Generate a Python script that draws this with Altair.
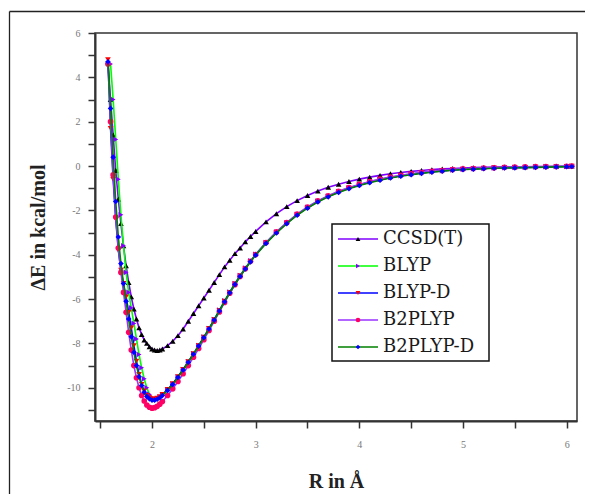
import altair as alt
import pandas as pd

# ---------------- data ----------------
R = [1.575, 1.6, 1.625, 1.65, 1.675, 1.7, 1.725, 1.75, 1.775, 1.8, 1.825, 1.85,
     1.875, 1.9, 1.925, 1.95, 1.975, 2.0, 2.025, 2.05, 2.075, 2.1,
     2.15, 2.2, 2.25, 2.3, 2.35, 2.4, 2.45, 2.5, 2.55, 2.6, 2.65, 2.7, 2.75, 2.8,
     2.85, 2.9, 2.95, 3.0,
     3.1, 3.2, 3.3, 3.4, 3.5, 3.6, 3.7, 3.8, 3.9, 4.0, 4.1, 4.2, 4.3, 4.4, 4.5,
     4.6, 4.7, 4.8, 4.9, 5.0, 5.1, 5.2, 5.3, 5.4, 5.5, 5.6, 5.7, 5.8, 5.9, 6.0, 6.05]

CCSD_T = [4.7, 3.0, 1.4, -0.2, -1.5, -2.6, -3.6, -4.5, -5.25, -5.9, -6.45, -6.9,
          -7.3, -7.6, -7.85, -8.0, -8.15, -8.25, -8.3, -8.32, -8.3, -8.25,
          -8.1, -7.9, -7.65, -7.35, -7.0, -6.65, -6.3, -5.95, -5.6, -5.25, -4.9, -4.55, -4.25, -3.95,
          -3.7, -3.42, -3.18, -2.95,
          -2.52, -2.15, -1.83, -1.56, -1.33, -1.13, -0.96, -0.82, -0.7, -0.59, -0.5, -0.42, -0.35, -0.29, -0.24,
          -0.2, -0.16, -0.13, -0.11, -0.09, -0.07, -0.06, -0.05, -0.04, -0.03, -0.03, -0.02, -0.02, -0.01, -0.01, 0.0]

BLYP = [None, 4.6, 3.0, 1.2, -0.6, -2.2, -3.6, -4.8, -5.7, -6.4, -7.1, -7.8,
        -8.5, -9.1, -9.6, -10.0, -10.3, -10.45, -10.52, -10.5, -10.43, -10.33,
        -10.1, -9.84, -9.52, -9.18, -8.83, -8.47, -8.1, -7.72, -7.33, -6.92, -6.5, -6.08, -5.68, -5.3,
        -4.94, -4.6, -4.28, -3.98,
        -3.45, -2.98, -2.56, -2.18, -1.86, -1.58, -1.35, -1.15, -0.98, -0.84, -0.71, -0.6, -0.51, -0.43, -0.36,
        -0.3, -0.25, -0.21, -0.17, -0.14, -0.12, -0.1, -0.08, -0.07, -0.06, -0.05, -0.04, -0.03, -0.02, -0.02, -0.01]

BLYP_D = [4.8, 1.7, -0.6, -2.4, -3.8, -4.7, -5.3, -5.9, -6.6, -7.3, -8.1, -8.8,
          -9.4, -9.85, -10.15, -10.35, -10.45, -10.5, -10.5, -10.47, -10.4, -10.3,
          -10.08, -9.82, -9.5, -9.17, -8.82, -8.47, -8.1, -7.72, -7.33, -6.93, -6.52, -6.1, -5.7, -5.32,
          -4.96, -4.62, -4.3, -4.0,
          -3.47, -3.0, -2.58, -2.2, -1.88, -1.6, -1.37, -1.17, -1.0, -0.86, -0.73, -0.62, -0.52, -0.44, -0.37,
          -0.31, -0.26, -0.22, -0.18, -0.15, -0.13, -0.11, -0.09, -0.08, -0.07, -0.06, -0.05, -0.04, -0.03, -0.02, -0.01]

B2PLYP = [4.6, 2.0, -0.4, -2.3, -3.7, -4.8, -5.7, -6.6, -7.5, -8.3, -9.0, -9.55,
          -10.0, -10.35, -10.6, -10.78, -10.88, -10.92, -10.9, -10.84, -10.74, -10.62,
          -10.35, -10.05, -9.72, -9.37, -9.0, -8.62, -8.23, -7.83, -7.42, -7.0, -6.58, -6.15, -5.74, -5.35,
          -4.98, -4.63, -4.3, -3.99,
          -3.45, -2.97, -2.55, -2.17, -1.85, -1.57, -1.34, -1.14, -0.97, -0.83, -0.7, -0.59, -0.5, -0.42, -0.35,
          -0.29, -0.24, -0.2, -0.16, -0.13, -0.11, -0.09, -0.08, -0.06, -0.05, -0.04, -0.03, -0.02, -0.02, -0.01, 0.0]

B2PLYP_D = [4.7, 2.6, 0.4, -1.6, -3.2, -4.4, -5.3, -6.1, -6.9, -7.7, -8.4, -9.0,
            -9.5, -9.9, -10.2, -10.4, -10.5, -10.56, -10.56, -10.52, -10.45, -10.35,
            -10.12, -9.85, -9.53, -9.2, -8.85, -8.49, -8.12, -7.74, -7.35, -6.95, -6.54, -6.12, -5.72, -5.34,
            -4.98, -4.64, -4.32, -4.02,
            -3.49, -3.02, -2.6, -2.22, -1.9, -1.62, -1.39, -1.19, -1.02, -0.88, -0.75, -0.64, -0.54, -0.46, -0.39,
            -0.33, -0.28, -0.23, -0.19, -0.16, -0.14, -0.12, -0.1, -0.09, -0.08, -0.07, -0.06, -0.05, -0.04, -0.03, -0.02]

series_names = ["CCSD(T)", "BLYP", "BLYP-D", "B2PLYP", "B2PLYP-D"]
series_values = [CCSD_T, BLYP, BLYP_D, B2PLYP, B2PLYP_D]
line_colors = ["#8000ff", "#00ff00", "#0000ff", "#9933ff", "#008000"]
marker_colors = ["#000000", "#8000ff", "#ff0000", "#ff0066", "#0000ff"]
marker_shapes = ["triangle-up", "triangle-right", "triangle-down", "circle", "diamond"]

x_tick_values = [1.5, 2, 2.5, 3, 3.5, 4, 4.5, 5, 5.5, 6]
y_tick_values = [-11, -10, -9, -8, -7, -6, -5, -4, -3, -2, -1, 0, 1, 2, 3, 4, 5, 6]
x_domain = [1.45, 6.1]
y_domain = [-11.5, 6]

x_title = "R in Å"
y_title = "ΔE in kcal/mol"

# ---------------- chart ----------------
W, H = 482, 388
SERIF = "Liberation Serif"

x_enc = alt.X("R:Q", scale=alt.Scale(domain=x_domain, nice=False, zero=False),
              axis=alt.Axis(values=x_tick_values, title=x_title,
                            labelExpr="datum.value % 1 == 0 ? '' + datum.value : ''",
                            labelPadding=11, titleFontSize=20,
                            titleBaseline="alphabetic", titleY=66))
y_enc = alt.Y("E:Q", scale=alt.Scale(domain=y_domain, nice=False, zero=False),
              axis=alt.Axis(values=y_tick_values, title=y_title,
                            labelExpr="datum.value % 2 == 0 ? '' + datum.value : ''",
                            labelPadding=8, titlePadding=18, titleFontSize=20))

layers = []

# outer frame of the figure (left and top edges; the rest runs off the page)
one = pd.DataFrame({"k": [0]})
layers.append(alt.Chart(one).mark_rule(color="#222222", strokeWidth=1.3).encode(
    x=alt.value(-85.5), y=alt.value(-21.5), y2=alt.value(H + 120)))
layers.append(alt.Chart(one).mark_rule(color="#222222", strokeWidth=1.3).encode(
    x=alt.value(-85.5), x2=alt.value(W + 40), y=alt.value(-21.5)))

for name, vals, lc, mc, sh in zip(series_names, series_values, line_colors, marker_colors, marker_shapes):
    df = pd.DataFrame({"R": R, "E": vals, "series": name}).dropna()
    base = alt.Chart(df).encode(x=x_enc, y=y_enc)
    layers.append(base.mark_line(color=lc, strokeWidth=1.6))
    layers.append(base.mark_point(filled=True, color=mc, shape=sh, size=32, opacity=1))

# legend (drawn by hand to show line + marker)
box = alt.Chart(one).mark_rect(
    fill="white", stroke="#111111", strokeWidth=1.5).encode(
    x=alt.value(237), x2=alt.value(394), y=alt.value(191), y2=alt.value(328))
layers.append(box)
for i, (name, lc, mc, sh) in enumerate(zip(series_names, line_colors, marker_colors, marker_shapes)):
    py = 206 + 27 * i
    d = pd.DataFrame({"series": [name]})
    c = alt.Chart(d)
    layers.append(c.mark_rule(color=lc, strokeWidth=1.6).encode(
        x=alt.value(243), x2=alt.value(283), y=alt.value(py)))
    layers.append(c.mark_point(filled=True, color=mc, shape=sh, size=22, opacity=1).encode(
        x=alt.value(263), y=alt.value(py)))
    layers.append(c.mark_text(align="left", baseline="middle", font="DejaVu Serif", fontSize=18,
                              color="#1a1a1a").encode(
        x=alt.value(288), y=alt.value(py), text="series:N"))

chart = alt.layer(*layers).properties(
    width=W, height=H,
    autosize=alt.AutoSizeParams(type="none"),
    padding={"left": 87, "top": 25, "right": 8, "bottom": 73},
).configure_view(
    stroke="#333333", strokeWidth=1.5
).configure_axis(
    grid=False, domainColor="#333333", domainWidth=2, zindex=1,
    tickColor="#333333", tickWidth=1.5, tickSize=7,
    labelFont=SERIF, labelFontSize=10, labelColor="#777777",
    titleFont=SERIF, titleFontWeight="bold", titleColor="#222222"
)

chart.save("out.html", embed_options={"renderer": "svg", "actions": False})
